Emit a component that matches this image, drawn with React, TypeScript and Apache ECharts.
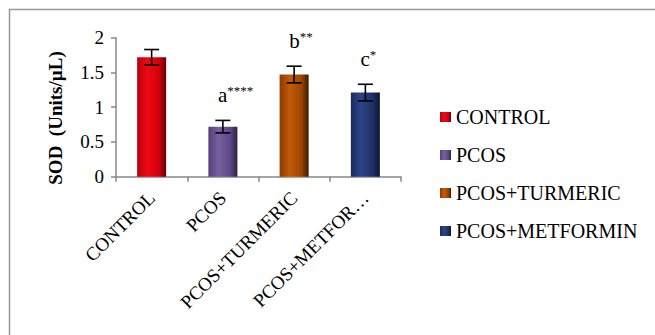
import React, { useEffect, useRef } from "react";
import * as echarts from "echarts";

const categories = ["CONTROL", "PCOS", "PCOS+TURMERIC", "PCOS+METFORMIN"];
const sodMeans = [1.72, 0.72, 1.47, 1.21];
const sodErrors = [0.11, 0.09, 0.12, 0.12];
const sigLetters = ["", "a", "b", "c"];
const sigStars = ["", "****", "**", "*"];
const yTicks = [0, 0.5, 1, 1.5, 2];

const barColors = [
  ["#b8000c", "#ee0a14", "#d4000c", "#5e0006"],
  ["#54407a", "#77609e", "#5e4888", "#2c2040"],
  ["#8a3a00", "#c25a0a", "#9e4400", "#3a1800"],
  ["#1a2a5e", "#2e4488", "#1e3068", "#0c1430"],
];

const FONT = "Liberation Serif";

function grad(c: string[]) {
  return {
    type: "linear",
    x: 0,
    y: 0,
    x2: 1,
    y2: 0,
    colorStops: [
      { offset: 0, color: c[0] },
      { offset: 0.35, color: c[1] },
      { offset: 0.75, color: c[2] },
      { offset: 1, color: c[3] },
    ],
  };
}

export default function App() {
  const ref = useRef<HTMLDivElement>(null);
  useEffect(() => {
    if (!ref.current) return;
    const chart = echarts.init(ref.current, null, { renderer: "svg" });
    const barSeries = categories.map((name, i) => ({
      name,
      type: "bar",
      stack: "all",
      barWidth: 29,
      itemStyle: { color: grad(barColors[i]) },
      data: categories.map((_, j) => (j === i ? sodMeans[i] : "-")),
    }));
    const errSeries = {
      type: "custom",
      clip: false,
      z: 10,
      data: categories.map((_, i) => [i, sodMeans[i], sodErrors[i]]),
      encode: { x: 0, y: 1 },
      renderItem: (params: any, api: any) => {
        const idx = api.value(0);
        const m = api.value(1);
        const e = api.value(2);
        const top = api.coord([idx, m + e]);
        const bot = api.coord([idx, m - e]);
        const half = 7.5;
        const st = { stroke: "#000", lineWidth: 1.6 };
        const children: any[] = [
          { type: "line", shape: { x1: top[0], y1: top[1], x2: bot[0], y2: bot[1] }, style: st },
          { type: "line", shape: { x1: top[0] - half, y1: top[1], x2: top[0] + half, y2: top[1] }, style: st },
          { type: "line", shape: { x1: bot[0] - half, y1: bot[1], x2: bot[0] + half, y2: bot[1] }, style: st },
        ];
        const letter = sigLetters[params.dataIndex];
        if (letter) {
          children.push({
            type: "text",
            x: top[0] - 5,
            y: top[1] - 14,
            style: {
              text: "{l|" + letter + "}{s|" + sigStars[params.dataIndex] + "}",
              align: "left",
              verticalAlign: "bottom",
              rich: {
                l: { fontFamily: FONT, fontSize: 21, fill: "#000", lineHeight: 22 },
                s: { fontFamily: FONT, fontSize: 13, fill: "#000", lineHeight: 22, padding: [0, 0, 10, 0] },
              },
            },
          });
        }
        return { type: "group", children };
      },
    };
    chart.setOption({
      animation: false,
      backgroundColor: "#fff",
      textStyle: { fontFamily: FONT },
      grid: { left: 116, right: 254, top: 37.7, bottom: 158.3 },
      xAxis: {
        type: "category",
        data: categories,
        axisLine: { lineStyle: { color: "#888", width: 1.5 } },
        axisTick: { show: true, length: 5, lineStyle: { color: "#888", width: 1.5 } },
        axisLabel: {
          rotate: 45,
          margin: 18,
          color: "#000",
          fontFamily: FONT,
          fontSize: 19,
          overflow: "none",
          width: 300,
          interval: 0,
          formatter: (v: string) => (v.length > 13 ? v.slice(0, 11) + "…" : v),
        },
      },
      yAxis: {
        type: "value",
        min: yTicks[0],
        max: yTicks[yTicks.length - 1],
        interval: yTicks[1] - yTicks[0],
        splitLine: { show: false },
        axisLine: { show: true, lineStyle: { color: "#888", width: 1.5 } },
        axisTick: { show: true, length: 5, lineStyle: { color: "#888", width: 1.5 } },
        axisLabel: { color: "#000", fontFamily: FONT, fontSize: 19, margin: 12 },
      },
      legend: {
        orient: "vertical",
        left: 435,
        top: 102,
        icon: "rect",
        itemWidth: 11,
        itemHeight: 10,
        itemGap: 18,
        textStyle: { color: "#000", fontFamily: FONT, fontSize: 20, lineHeight: 20 },
        data: categories,
      },
      graphic: [
        {
          type: "rect",
          shape: { x: 9.5, y: 9.5, width: 800, height: 500 },
          style: { fill: "none", stroke: "#999", lineWidth: 1.5 },
        },
        {
          type: "text",
          x: 55,
          y: 118,
          rotation: Math.PI / 2,
          style: {
            text: "SOD  (Units/µL)",
            align: "center",
            verticalAlign: "middle",
            fontFamily: FONT,
            fontSize: 19,
            fontWeight: "bold",
            fill: "#000",
          },
        },
      ],
      series: [...barSeries, errSeries],
    });
    return () => chart.dispose();
  }, []);
  return (
    <div
      ref={ref}
      style={{ position: "fixed", left: 0, top: 0, width: 655, height: 335 }}
    />
  );
}
